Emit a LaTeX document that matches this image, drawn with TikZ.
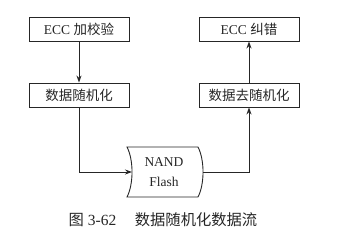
\documentclass[tikz,border=0pt]{standalone}
\usepackage{fontspec}
\setmainfont{Liberation Serif}
\newfontfamily\cjk{Noto Sans CJK SC}
\usetikzlibrary{arrows.meta}
\begin{document}
\begin{tikzpicture}[x=1pt,y=-1pt,
  box/.style={draw=black!85,line width=0.9pt,minimum width=100pt,minimum height=24pt,inner sep=0pt,font=\fontsize{13.5}{15}\selectfont,text=black!85},
  conn/.style={draw=black!85,line width=0.9pt,-{Stealth[length=7pt,width=5pt]}}]
\useasboundingbox (0,0) rectangle (338,239);
\node[box] (b1) at (79,29) {ECC {\cjk 加校验}};
\node[box] (b2) at (79,95) {{\cjk 数据随机化}};
\node[box] (b3) at (249,29) {ECC {\cjk 纠错}};
\node[box] (b4) at (249,95) {{\cjk 数据去随机化}};
\node[minimum width=71pt,minimum height=50pt,inner sep=0pt,align=center,font=\fontsize{13.5}{20}\selectfont,text=black!85] (nand) at (164,172) {NAND\\Flash};
\draw[black!85,line width=0.9pt] (127,147) -- (198,147) .. controls (204.7,160) and (204.7,184) .. (198,197) -- (127,197) .. controls (133.7,184) and (133.7,160) .. (127,147) -- cycle;
\coordinate (nandin) at (132,172);
\coordinate (nandout) at (203,172);
\draw[conn] (b1) -- (b2);
\draw[conn] (b2.south) |- (nandin);
\draw[conn] (nandout) -| (b4.south);
\draw[conn] (b4) -- (b3);
\node[font=\fontsize{15.3}{16}\selectfont,text=black!85] (cap) at (163,220) {{\cjk 图} \fontsize{15.5}{16}\selectfont 3-62\hspace{1.2em}\fontsize{15.3}{16}\selectfont{\cjk 数据随机化数据流}};
\end{tikzpicture}
\end{document}
